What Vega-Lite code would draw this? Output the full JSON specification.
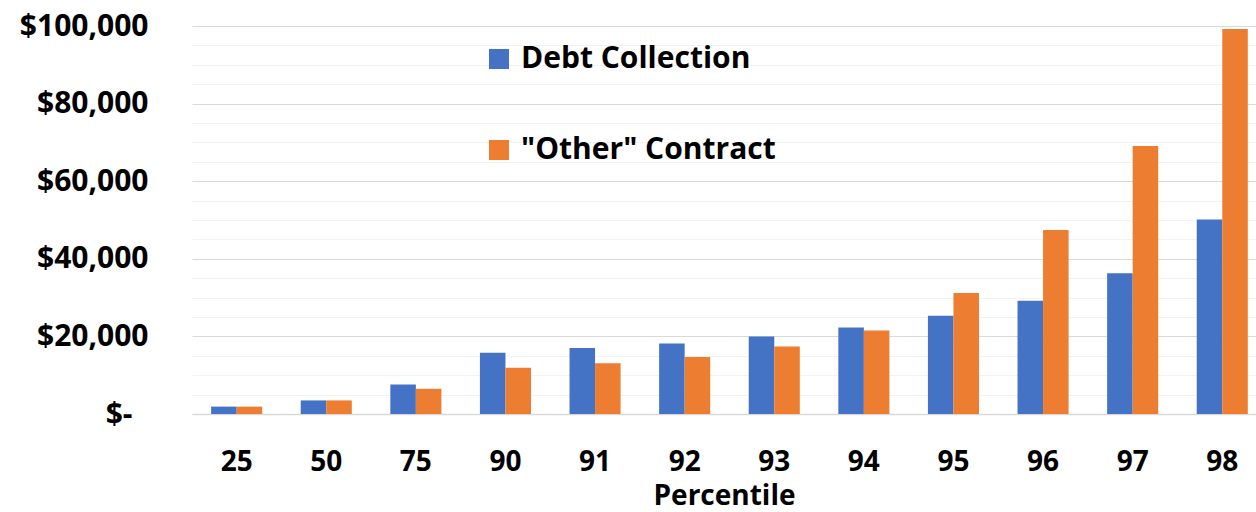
{
  "$schema": "https://vega.github.io/schema/vega-lite/v6.json",
  "autosize": "none",
  "padding": {"left": 192, "top": 26, "right": 0, "bottom": 98},
  "width": 1064,
  "height": 388,
  "background": "white",
  "config": {"view": {"stroke": null}, "font": "Open Sans"},
  "data": {"values": [
    {"p": "25", "series": "Debt Collection", "v": 1900},
    {"p": "25", "series": "\"Other\" Contract", "v": 1900},
    {"p": "50", "series": "Debt Collection", "v": 3500},
    {"p": "50", "series": "\"Other\" Contract", "v": 3500},
    {"p": "75", "series": "Debt Collection", "v": 7600},
    {"p": "75", "series": "\"Other\" Contract", "v": 6500},
    {"p": "90", "series": "Debt Collection", "v": 15800},
    {"p": "90", "series": "\"Other\" Contract", "v": 11900},
    {"p": "91", "series": "Debt Collection", "v": 17000},
    {"p": "91", "series": "\"Other\" Contract", "v": 13100},
    {"p": "92", "series": "Debt Collection", "v": 18200},
    {"p": "92", "series": "\"Other\" Contract", "v": 14700},
    {"p": "93", "series": "Debt Collection", "v": 20000},
    {"p": "93", "series": "\"Other\" Contract", "v": 17400},
    {"p": "94", "series": "Debt Collection", "v": 22300},
    {"p": "94", "series": "\"Other\" Contract", "v": 21500},
    {"p": "95", "series": "Debt Collection", "v": 25300},
    {"p": "95", "series": "\"Other\" Contract", "v": 31200},
    {"p": "96", "series": "Debt Collection", "v": 29200},
    {"p": "96", "series": "\"Other\" Contract", "v": 47400},
    {"p": "97", "series": "Debt Collection", "v": 36300},
    {"p": "97", "series": "\"Other\" Contract", "v": 69100},
    {"p": "98", "series": "Debt Collection", "v": 50100},
    {"p": "98", "series": "\"Other\" Contract", "v": 99200}
  ]},
  "mark": {"type": "bar"},
  "encoding": {
    "x": {"field": "p", "type": "ordinal", "sort": null,
      "scale": {"paddingInner": 0.43, "paddingOuter": 0.1525, "align": 0.7},
      "axis": {"title": "Percentile", "titleFont": "Open Sans", "titleFontSize": 28, "titleFontWeight": "bold", "titleColor": "black", "titlePadding": 6,
        "labelFont": "Open Sans", "labelFontSize": 28, "labelFontWeight": "bold", "labelColor": "black", "labelPadding": 34, "labelAngle": 0, "labelAlign": "center",
        "ticks": false, "domain": true, "domainColor": "#d9d9d9", "domainWidth": 1.5, "grid": false}},
    "xOffset": {"field": "series", "type": "nominal", "sort": ["Debt Collection", "\"Other\" Contract"],
      "scale": {"paddingInner": 0, "paddingOuter": 0}},
    "y": {"field": "v", "type": "quantitative",
      "scale": {"domain": [0, 100000], "nice": false},
      "axis": {"orient": "left", "title": null, "ticks": false, "domain": false,
        "values": [0, 5000, 10000, 15000, 20000, 25000, 30000, 35000, 40000, 45000, 50000, 55000, 60000, 65000, 70000, 75000, 80000, 85000, 90000, 95000, 100000],
        "grid": true,
        "gridColor": {"condition": {"test": "datum.value % 20000 == 0", "value": "#d9d9d9"}, "value": "#f2f2f2"},
        "gridWidth": 1,
        "labelExpr": "datum.value == 0 ? '$-' : (datum.value % 20000 == 0 ? '$' + format(datum.value, ',') : '')",
        "labelFont": "Open Sans", "labelFontSize": 30, "labelFontWeight": "bold", "labelColor": "black",
        "labelPadding": {"condition": {"test": "datum.value == 0", "value": 60}, "value": 44}}},
    "color": {"field": "series", "type": "nominal",
      "scale": {"domain": ["Debt Collection", "\"Other\" Contract"], "range": ["#4472C4", "#ED7D31"]},
      "legend": {"title": null, "orient": "none", "legendX": 292, "legendY": 18, "direction": "vertical",
        "symbolType": "square", "symbolSize": 400, "symbolStrokeWidth": 0, "symbolOpacity": 1,
        "labelFont": "Open Sans", "labelFontSize": 30, "labelFontWeight": "bold", "labelColor": "black",
        "labelOffset": 7, "rowPadding": 61, "labelLimit": 400}}
  }
}
